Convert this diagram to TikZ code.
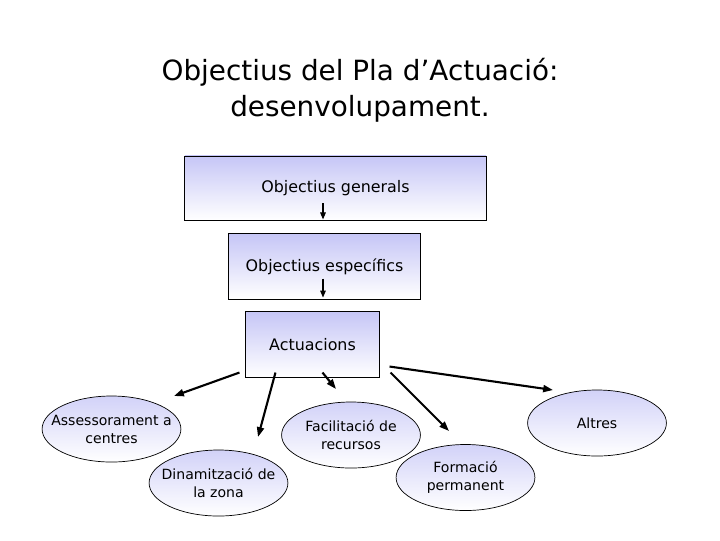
\documentclass[tikz,border=0pt]{standalone}
\usepackage{fontspec}
\setmainfont{DejaVu Sans}
\usepackage{tikz}
\usetikzlibrary{positioning,arrows.meta,shapes,calc}
\usepackage{xcolor}
\definecolor{PaleLavender}{RGB}{198,198,246}
\definecolor{SoftLavender}{RGB}{210,210,248}

\begin{document}
\begin{tikzpicture}[
    x=0.025cm, y=-0.025cm,
    stage/.style={rectangle, draw=black, line width=0.6pt, top color=PaleLavender, bottom color=white,
                  inner sep=0pt, align=center, font=\fontsize{11.3}{14}\selectfont},
    task/.style={ellipse, draw=black, line width=0.5pt, top color=SoftLavender, bottom color=white,
                 minimum width=3.47cm, minimum height=1.65cm, inner xsep=-10pt, inner ysep=0pt,
                 align=center, font=\fontsize{10}{12.8}\selectfont},
    flow/.style={-{Triangle[length=7pt, width=5pt]}, line width=1.5pt},
    tick/.style={-{Triangle[length=5pt, width=4pt]}, line width=0.8pt},
]
    \useasboundingbox (0,0) rectangle (720,540);
    \node[align=center, font=\fontsize{19.8}{25.6}\selectfont] (title) at (360,90) {Objectius del Pla d'Actuació:\\desenvolupament.};
    \node[stage, minimum width=7.53cm, minimum height=1.6cm] (gen) at (335.5,188) {Objectius generals};
    \node[stage, minimum width=4.78cm, minimum height=1.63cm] (esp) at (324.5,266.5) {Objectius específics};
    \node[stage, minimum width=3.33cm, minimum height=1.63cm] (act) at (312.5,344.5) {Actuacions};
    \node[task] (ass) at (111.5,429) {Assessorament a\\centres};
    \node[task] (din) at (218.5,483) {Dinamització de\\la zona};
    \node[task] (fac) at (351,435) {Facilitació de\\recursos};
    \node[task] (for) at (465.5,477.5) {Formació\\permanent};
    \node[task] (alt) at (597,423) {Altres};
    % arrows inside the boxes
    \coordinate (gen top) at ($(gen.south)+(-12.5,-17)$);
    \coordinate (gen end) at ($(gen.south)+(-12.5,-1)$);
    \coordinate (esp top) at ($(esp.south)+(-1.5,-21)$);
    \coordinate (esp end) at ($(esp.south)+(-1.5,-2)$);
    \draw[tick] (gen top) -- (gen end);
    \draw[tick] (esp top) -- (esp end);
    % arrows from Actuacions
    \coordinate (from ass) at ($(act.south west)+(-6,-5)$);
    \coordinate (from din) at ($(act.south west)+(30,-5)$);
    \coordinate (from fac) at ($(act.south west)+(77,-5)$);
    \coordinate (from for) at ($(act.south east)+(11,-5)$);
    \coordinate (from alt) at ($(act.south east)+(10,-11)$);
    \coordinate (to ass) at (174,396);
    \coordinate (to din) at (258,437);
    \coordinate (to fac) at (336,389);
    \coordinate (to for) at (449,431);
    \coordinate (to alt) at (553,390);
    \draw[flow] (from ass) -- (to ass);
    \draw[flow] (from din) -- (to din);
    \draw[flow] (from fac) -- (to fac);
    \draw[flow] (from for) -- (to for);
    \draw[flow] (from alt) -- (to alt);
\end{tikzpicture}
\end{document}
